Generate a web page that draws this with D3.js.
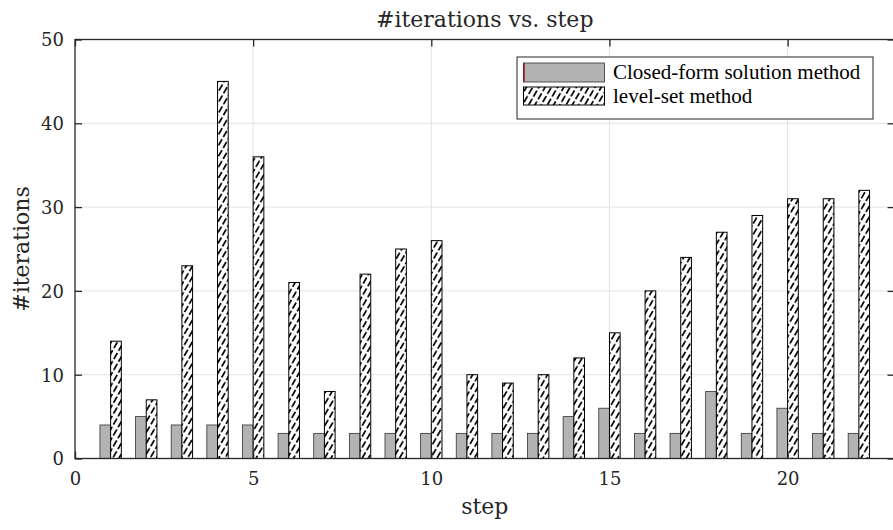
<!DOCTYPE html>
<html><head><meta charset="utf-8">
<script src="https://cdn.jsdelivr.net/npm/d3@7"></script>
<style>body{margin:0;background:#fff}svg{display:block}</style>
</head><body><svg id="c" width="893" height="530" font-family="DejaVu Serif, serif"></svg>
<script>
const steps = d3.range(1, 23);
const closedForm = [4,5,4,4,4,3,3,3,3,3,3,3,3,5,6,3,3,8,3,6,3,3];
const levelSet = [14,7,23,45,36,21,8,22,25,26,10,9,10,12,15,20,24,27,29,31,31,32];
const xTicks = [0,5,10,15,20];
const yTicks = [0,10,20,30,40,50];
const seriesNames = ["Closed-form solution method","level-set method"];

const svg = d3.select("#c");
const L=75, R=894.5, T=39.5, B=458.5;
const x = d3.scaleLinear().domain([0,23]).range([L,R]);
const y = d3.scaleLinear().domain([0,50]).range([B,T]);
const axisCol="#262626";

const defs = svg.append("defs");
const pat = defs.append("pattern").attr("id","hatch").attr("patternUnits","userSpaceOnUse")
  .attr("width",5.4).attr("height",38).attr("patternTransform","rotate(30)");
pat.append("rect").attr("width",5.4).attr("height",38).attr("fill","#fff");
pat.append("line").attr("x1",2.7).attr("y1",0).attr("x2",2.7).attr("y2",38)
  .attr("stroke","#000").attr("stroke-width",1.7).attr("stroke-dasharray","7,2.5");

// grid
svg.append("g").selectAll("line").data(xTicks.filter(d=>d>0)).join("line")
  .attr("x1",d=>x(d)).attr("x2",d=>x(d)).attr("y1",T).attr("y2",B)
  .attr("stroke","#e3e3e3").attr("stroke-width",1);
svg.append("g").selectAll("line").data(yTicks.filter(d=>d>0&&d<50)).join("line")
  .attr("y1",d=>y(d)).attr("y2",d=>y(d)).attr("x1",L).attr("x2",R)
  .attr("stroke","#e3e3e3").attr("stroke-width",1);

// bars
const bw = 0.3;
svg.append("g").selectAll("rect").data(steps).join("rect")
  .attr("x",(d)=>x(d-bw)).attr("width",x(bw)-x(0))
  .attr("y",(d,i)=>y(closedForm[i])).attr("height",(d,i)=>y(0)-y(closedForm[i]))
  .attr("fill","#b3b3b3").attr("stroke","#333").attr("stroke-width",0.8);
svg.append("g").selectAll("rect").data(steps).join("rect")
  .attr("x",(d)=>x(d)).attr("width",x(bw)-x(0))
  .attr("y",(d,i)=>y(levelSet[i])).attr("height",(d,i)=>y(0)-y(levelSet[i]))
  .attr("fill","url(#hatch)").attr("stroke","#000").attr("stroke-width",1);

// axes box
svg.append("rect").attr("x",L).attr("y",T).attr("width",R-L).attr("height",B-T)
  .attr("fill","none").attr("stroke",axisCol).attr("stroke-width",1.3);

const tl=7;
const gx = svg.append("g").attr("transform",`translate(0,${B})`)
  .call(d3.axisBottom(x).tickValues(xTicks).tickSize(-tl).tickPadding(14).tickFormat(d3.format("d")));
const gxt = svg.append("g").attr("transform",`translate(0,${T})`)
  .call(d3.axisTop(x).tickValues(xTicks).tickSize(-tl).tickFormat(""));
const gy = svg.append("g").attr("transform",`translate(${L},0)`)
  .call(d3.axisLeft(y).tickValues(yTicks).tickSize(-tl).tickPadding(11).tickFormat(d3.format("d")));
const gyr = svg.append("g").attr("transform",`translate(${R},0)`)
  .call(d3.axisRight(y).tickValues(yTicks).tickSize(-tl).tickFormat(""));
[gx,gxt,gy,gyr].forEach(g=>{
  g.attr("font-family",null);
  g.select(".domain").remove();
  g.selectAll("line").attr("stroke",axisCol).attr("stroke-width",1.3);
  g.selectAll("text").attr("font-size",18).attr("fill",axisCol);
});
gy.selectAll("text").attr("dy","0.35em");

// title and labels
svg.append("text").attr("x",(L+R)/2).attr("y",27).attr("text-anchor","middle")
  .attr("font-size",22).attr("fill",axisCol).text("#iterations vs. step");
svg.append("text").attr("x",(L+R)/2).attr("y",514).attr("text-anchor","middle")
  .attr("font-size",22).attr("fill",axisCol).text("step");
svg.append("text").attr("transform",`translate(29,${(T+B)/2}) rotate(-90)`).attr("text-anchor","middle")
  .attr("font-size",22).attr("fill",axisCol).text("#iterations");

// legend
const lg = svg.append("g");
lg.append("rect").attr("x",517).attr("y",57).attr("width",356).attr("height",62)
  .attr("fill","#fff").attr("stroke",axisCol).attr("stroke-width",1);
lg.append("rect").attr("x",523.5).attr("y",63).attr("width",81).attr("height",19)
  .attr("fill","#b3b3b3").attr("stroke","#333").attr("stroke-width",0.8);
lg.append("line").attr("x1",524).attr("x2",524).attr("y1",63).attr("y2",82)
  .attr("stroke","#8b1a1a").attr("stroke-width",1.5);
lg.append("rect").attr("x",523.5).attr("y",87).attr("width",81).attr("height",18)
  .attr("fill","url(#hatch)").attr("stroke","#000").attr("stroke-width",1);
lg.selectAll("text.lg").data(seriesNames).join("text").attr("class","lg")
  .attr("x",613).attr("y",(d,i)=>79+i*24).attr("font-family","Liberation Serif, serif")
  .attr("font-size",21).attr("fill","#000").text(d=>d);
</script></body></html>
